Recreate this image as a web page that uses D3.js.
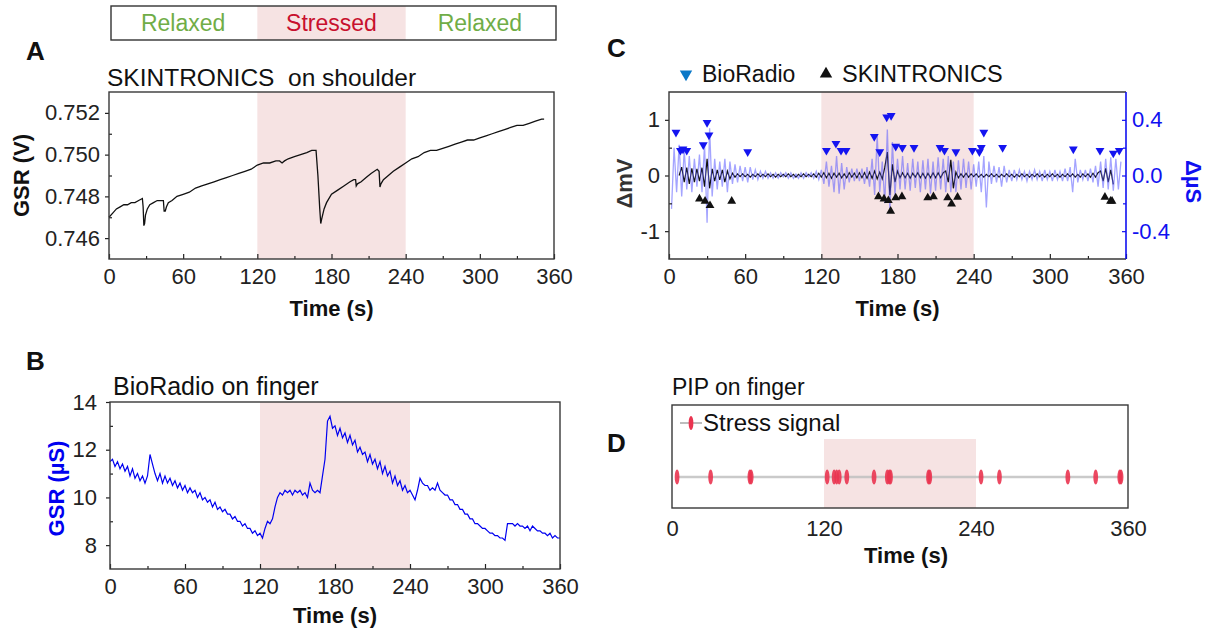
<!DOCTYPE html>
<html>
<head>
<meta charset="utf-8">
<script src="https://cdn.jsdelivr.net/npm/d3@7"></script>
<style>
  body { margin: 0; background: #fff; }
  svg text { font-family: "Liberation Sans", Arial, sans-serif; }
</style>
</head>
<body>
<svg id="fig" width="1211" height="636"></svg>
<script>
// ---------- data ----------
// experiment phases (top bar + shaded areas)
var phaseNames = ["Relaxed", "Stressed", "Relaxed"];
var phaseStart = [0, 120, 240];
var phaseEnd = [120, 240, 360];
var phaseColors = ["#70ad47", "#c8102e", "#70ad47"];

var timeTicks = [0, 60, 120, 180, 240, 300, 360];
var timeMinor = [30, 90, 150, 210, 270, 330];

// A: SKINTRONICS on shoulder, GSR (V)
var aTime = [0,3,6,9,12,15,18,21,24,27,27.6,28.2,28.8,29.5,31,33,36,39,42,44,
  44.6,45.5,46.5,48,51,55,60,65,70,75,80,85,90,95,100,105,110,115,120,125,
  130,135,138,140,142,145,150,155,160,164,167.5,169,170.5,171.3,172,174,176,180,185,190,
  195,198,199.5,200,201,204,208,212,217,218.5,219.2,220,222,226,230,235,240,245,250,255,
  260,265,270,275,280,285,290,295,300,305,310,315,320,325,330,335,340,345,350,352];
var aGsr = [0.7470,0.7472,0.7474,0.7475,0.7476,0.7476,0.7477,0.7477,0.7478,0.7479,
  0.7475,0.7466,0.7467,0.7471,0.7474,0.7476,0.7477,0.7478,0.7478,0.7478,
  0.7473,0.7473,0.7475,0.7477,0.7478,0.7480,0.7481,0.7482,0.7484,0.7485,
  0.7486,0.7487,0.7488,0.7489,0.7490,0.7491,0.7492,0.7493,0.7495,0.7496,
  0.7496,0.7497,0.7497,0.7496,0.7497,0.7498,0.7499,0.7500,0.7501,0.7502,
  0.7502,0.7490,0.7474,0.7467,0.7469,0.7474,0.7477,0.7481,0.7483,0.7485,
  0.7487,0.7488,0.7488,0.7485,0.7486,0.7487,0.7489,0.7491,0.7493,0.7492,
  0.74845,0.7486,0.7488,0.7490,0.7492,0.7494,0.7496,0.7498,0.7499,0.7501,
  0.7502,0.7502,0.7503,0.7504,0.7505,0.7506,0.7507,0.7507,0.7508,0.7509,
  0.7510,0.7511,0.7512,0.7513,0.7514,0.7514,0.7515,0.7516,0.7517,0.7517];
var aTicks = [0.746, 0.748, 0.750, 0.752];
var aMinor = [0.747, 0.749, 0.751];

// B: BioRadio on finger, GSR (uS), one value every 2 s from 0 s
var bStep = 2;
var bGsr = [11.5,11.6,11.3,11.5,11.2,11.4,11.1,11.3,10.9,11.2,
  10.8,11.0,10.7,10.9,10.6,10.9,11.8,11.4,11.0,10.7,
  11.0,10.6,10.9,10.6,10.8,10.5,10.7,10.4,10.6,10.3,
  10.5,10.2,10.4,10.2,10.3,10.0,10.2,9.9,10.0,9.8,
  9.9,9.6,9.8,9.5,9.6,9.4,9.5,9.3,9.3,9.1,
  9.2,9.0,9.0,8.8,8.9,8.7,8.7,8.5,8.6,8.4,
  8.5,8.3,8.7,9.0,8.9,9.1,9.6,10.0,10.2,10.1,
  10.3,10.2,10.3,10.1,10.3,10.2,10.3,10.1,10.2,10.0,
  10.6,10.3,10.2,10.3,10.2,10.9,11.6,13.2,13.4,12.9,
  13.0,12.6,12.9,12.5,12.7,12.3,12.6,12.2,12.4,11.9,
  12.1,11.8,11.9,11.5,11.8,11.4,11.6,11.2,11.5,11.0,
  11.3,10.9,11.1,10.6,10.9,10.5,10.7,10.3,10.5,10.2,
  10.3,10.1,9.9,10.3,10.8,10.6,10.5,10.5,10.3,10.4,
  10.3,10.6,10.3,10.2,10.1,10.1,9.9,9.9,9.7,9.7,
  9.5,9.5,9.3,9.3,9.1,9.1,8.9,8.9,8.8,8.7,
  8.7,8.6,8.5,8.5,8.4,8.4,8.3,8.3,8.2,8.9,
  8.9,8.9,8.8,8.9,8.8,8.8,8.7,8.8,8.6,8.8,
  8.7,8.6,8.6,8.5,8.5,8.4,8.5,8.3,8.4,8.3,
  8.3];
var bTicks = [8, 10, 12, 14];
var bMinor = [9, 11, 13];

// C: filtered signals, every 2 s
var cStep = 2;
var cBioStart = 2;   // BioRadio, delta uS (right axis)
var cBio = [-0.24,0.20,-0.12,0.22,-0.15,0.18,-0.10,0.14,-0.12,0.12,
  -0.08,0.15,-0.12,0.22,-0.34,0.34,-0.15,0.12,-0.10,0.10,
  -0.08,0.12,-0.12,0.10,-0.06,0.08,-0.05,0.07,-0.04,0.06,
  -0.05,0.06,-0.03,0.04,-0.03,0.03,-0.02,0.03,-0.02,0.02,
  -0.02,0.02,-0.02,0.02,-0.01,0.02,-0.02,0.02,-0.02,0.01,
  -0.02,0.02,-0.02,0.02,-0.01,0.02,-0.02,0.03,-0.03,0.04,
  -0.06,0.10,-0.08,0.07,-0.12,0.14,-0.13,0.09,-0.10,0.06,
  -0.05,0.05,-0.04,0.05,-0.04,0.05,-0.06,0.06,-0.08,0.12,
  -0.14,0.29,-0.12,0.10,-0.20,0.33,-0.26,0.24,-0.14,0.12,
  -0.10,0.14,-0.10,0.09,-0.11,0.12,-0.09,0.10,-0.12,0.11,
  -0.10,0.12,-0.13,0.10,-0.11,0.13,-0.10,0.12,-0.12,0.14,
  -0.12,0.10,-0.12,0.11,-0.10,0.12,-0.09,0.10,-0.10,0.08,
  -0.08,0.10,-0.12,0.14,-0.23,0.10,-0.06,0.07,-0.05,0.06,
  -0.08,0.07,-0.05,0.04,-0.04,0.04,-0.03,0.04,-0.03,0.03,
  -0.04,0.03,-0.03,0.04,-0.03,0.03,-0.04,0.04,-0.03,0.03,
  -0.04,0.04,-0.03,0.03,-0.04,0.05,-0.04,0.06,-0.12,0.12,
  -0.05,0.04,-0.03,0.04,-0.04,0.05,-0.05,0.07,-0.08,0.10,
  -0.09,0.12,-0.10,0.13,-0.11,0.12,-0.10,0.10];
var cSkinStart = 8;  // SKINTRONICS, delta mV (left axis)
var cSkin = [0.00,0.15,-0.12,0.14,-0.15,0.13,-0.12,0.12,-0.10,0.14,
  -0.20,0.30,-0.23,0.12,-0.10,0.10,-0.08,0.10,-0.12,0.08,
  -0.06,0.04,-0.03,0.03,-0.02,0.03,-0.02,0.02,-0.03,0.02,
  -0.02,0.03,-0.02,0.02,-0.02,0.03,-0.02,0.02,-0.03,0.02,
  -0.02,0.02,-0.02,0.03,-0.02,0.02,-0.03,0.02,-0.02,0.03,
  -0.02,0.02,-0.02,0.03,-0.03,0.04,-0.03,0.05,-0.04,0.04,
  -0.05,0.04,-0.03,0.04,-0.04,0.03,-0.04,0.05,-0.03,0.04,
  -0.04,0.05,-0.04,0.05,-0.05,0.06,-0.05,0.08,-0.06,0.06,
  -0.06,0.15,0.42,-0.35,0.20,-0.12,0.08,-0.04,0.05,-0.04,
  0.04,-0.05,0.04,-0.03,0.05,-0.04,0.04,-0.05,0.04,-0.04,
  0.05,-0.04,0.05,-0.04,0.05,0.08,-0.12,0.28,-0.23,0.06,
  -0.04,0.03,-0.03,0.04,-0.03,0.03,-0.02,0.03,-0.03,0.02,
  -0.03,0.02,-0.02,0.03,-0.02,0.02,-0.03,0.02,-0.02,0.03,
  -0.02,0.02,-0.03,0.02,-0.02,0.03,-0.02,0.02,-0.03,0.02,
  -0.02,0.03,-0.02,0.02,-0.03,0.02,-0.02,0.03,-0.02,0.02,
  -0.03,0.02,-0.02,0.03,-0.02,0.03,-0.03,0.02,-0.03,0.03,
  -0.02,0.03,-0.03,0.04,-0.03,0.05,0.08,-0.10,0.13,-0.12,
  0.10,-0.16];
// detected events
var cBioMarkT = [5.5,9,11,14,27,30,31.5,62,124,131.5,135.5,139.5,161.7,166,171.5,175,178.6,183.8,193,
  213.5,217,226,239,244.5,246,248,262.8,318.5,339.5,350,354.7];
var cBioMarkV = [0.31,0.18,0.19,0.18,0.22,0.38,0.29,0.17,0.18,0.23,0.18,0.18,0.28,0.17,0.42,0.43,0.21,0.20,0.20,
  0.20,0.18,0.17,0.18,0.17,0.20,0.31,0.20,0.19,0.18,0.16,0.18];
var cSkinMarkT = [24,28.4,32.3,49.4,165,169.4,172.8,174.6,178.6,183.5,203.8,208.3,219.5,222.6,227.3,343.4,347.8,349];
var cSkinMarkV = [-0.42,-0.46,-0.54,-0.46,-0.38,-0.42,-0.45,-0.64,-0.40,-0.38,-0.40,-0.38,-0.40,-0.51,-0.39,-0.39,-0.46,-0.46];
var cLeftTicks = [-1, 0, 1], cLeftMinor = [-0.5, 0.5];
var cRightTicks = [-0.4, 0, 0.4], cRightMinor = [-0.2, 0.2];

// D: PIP stress signals (s)
var stressTimes = [4,30.5,61.5,62.5,122.5,128,130,132,138,159.5,170,171.5,172.5,202.5,203.5,244,258.5,312.5,334.5,353.5,354.5];
var dTicks = [0, 120, 240, 360];

// ---------- drawing ----------
var FONT = '"Liberation Sans", Arial, sans-serif';
var frameColor = "#383838";
var pinkFill = "#f6e3e3";
var svg = d3.select("#fig");

function styleAxis(sel, color, size) {
  sel.select(".domain").remove();
  sel.attr("font-family", FONT);
  sel.selectAll("line").attr("stroke", color).attr("stroke-width", 1.2);
  sel.selectAll("text").attr("fill", color).attr("font-size", size);
}

function bottomAxis(g, x, h, ticks, minor) {
  g.append("g").attr("transform", `translate(0,${h})`)
    .call(d3.axisBottom(x).tickValues(ticks).tickSize(-5).tickPadding(9).tickFormat(d => String(d)))
    .call(styleAxis, "#222", 22);
  g.append("g").attr("transform", `translate(0,${h})`)
    .call(d3.axisBottom(x).tickValues(minor).tickSize(-3).tickFormat(""))
    .call(styleAxis, "#222", 22);
}

function leftAxis(g, y, ticks, minor, fmt, pad) {
  g.append("g")
    .call(d3.axisLeft(y).tickValues(ticks).tickSize(4).tickPadding(pad).tickFormat(fmt))
    .call(styleAxis, "#222", 22);
  g.append("g")
    .call(d3.axisLeft(y).tickValues(minor).tickSize(-3).tickFormat(""))
    .call(styleAxis, "#222", 22);
}

function shade(g, x, y0, y1) {
  g.append("rect")
    .attr("x", x(phaseStart[1])).attr("y", y0)
    .attr("width", x(phaseEnd[1]) - x(phaseStart[1])).attr("height", y1 - y0)
    .attr("fill", pinkFill);
}

function frame(g, w, h) {
  g.append("rect").attr("width", w).attr("height", h)
    .attr("fill", "none").attr("stroke", frameColor).attr("stroke-width", 1.4);
}

function label(txt, x, y, size, weight, color, rot) {
  var t = svg.append("text").attr("x", x).attr("y", y)
    .attr("font-size", size).attr("font-weight", weight || "normal")
    .attr("fill", color || "#111").style("white-space", "pre").text(txt);
  if (rot) {
    t.attr("text-anchor", "middle").attr("dominant-baseline", "middle")
      .attr("transform", `rotate(${rot},${x},${y})`);
  }
  return t;
}

// ----- top phase bar -----
var A = { left: 109, top: 92, w: 445, h: 167 };
var xA = d3.scaleLinear().domain([0, 360]).range([A.left, A.left + A.w]);
var bar = svg.append("g");
bar.append("rect").attr("x", xA(phaseStart[1])).attr("y", 6)
  .attr("width", xA(phaseEnd[1]) - xA(phaseStart[1])).attr("height", 34).attr("fill", pinkFill);
bar.append("rect").attr("x", xA(0) + 2).attr("y", 6).attr("width", A.w).attr("height", 34)
  .attr("fill", "none").attr("stroke", "#333").attr("stroke-width", 1.4);
bar.selectAll("text.phase").data(phaseNames).enter().append("text")
  .attr("x", (d, i) => (xA(phaseStart[i]) + xA(phaseEnd[i])) / 2)
  .attr("y", 31).attr("text-anchor", "middle").attr("font-size", 23)
  .attr("fill", (d, i) => phaseColors[i]).text(d => d);

// ----- panel A -----
var gA = svg.append("g").attr("transform", `translate(${A.left},${A.top})`);
var xa = d3.scaleLinear().domain([0, 360]).range([0, A.w]);
var ya = d3.scaleLinear().domain([0.745, 0.753]).range([A.h, 0]);
shade(gA, xa, 0, A.h);
gA.append("path").datum(aTime)
  .attr("fill", "none").attr("stroke", "#111").attr("stroke-width", 1.3)
  .attr("d", d3.line().x(d => xa(d)).y((d, i) => ya(aGsr[i])));
bottomAxis(gA, xa, A.h, timeTicks, timeMinor);
leftAxis(gA, ya, aTicks, aMinor, d3.format(".3f"), 5);
frame(gA, A.w, A.h);
label("A", 26, 60, 26, "bold");
label("SKINTRONICS  on shoulder", 107, 86, 24.5);
label("GSR (V)", 23, A.top + A.h / 2, 22, "bold", "#111", -90);
label("Time (s)", A.left + A.w / 2, 316, 22, "bold").attr("text-anchor", "middle");

// ----- panel B -----
var B = { left: 110, top: 402, w: 450, h: 167 };
var gB = svg.append("g").attr("transform", `translate(${B.left},${B.top})`);
var xb = d3.scaleLinear().domain([0, 360]).range([0, B.w]);
var yb = d3.scaleLinear().domain([7, 14]).range([B.h, 0]);
shade(gB, xb, 0, B.h);
gB.append("path").datum(bGsr)
  .attr("fill", "none").attr("stroke", "#0000f0").attr("stroke-width", 1.2)
  .attr("d", d3.line().x((d, i) => xb(i * bStep)).y(d => yb(d)));
bottomAxis(gB, xb, B.h, timeTicks, timeMinor);
leftAxis(gB, yb, bTicks, bMinor, d => String(d), 9);
frame(gB, B.w, B.h);
label("B", 26, 370, 26, "bold");
label("BioRadio on finger", 113, 395, 25);
label("GSR (\u00b5S)", 58, B.top + B.h / 2 + 3, 22, "bold", "#0000f0", -90);
label("Time (s)", B.left + B.w / 2, 623, 22, "bold").attr("text-anchor", "middle");

// ----- panel C -----
var C = { left: 669, top: 92, w: 457, h: 167 };
var gC = svg.append("g").attr("transform", `translate(${C.left},${C.top})`);
var xc = d3.scaleLinear().domain([0, 360]).range([0, C.w]);
var ycL = d3.scaleLinear().domain([-1.5, 1.5]).range([C.h, 0]);
var ycR = d3.scaleLinear().domain([-0.6, 0.6]).range([C.h, 0]);
shade(gC, xc, 0, C.h);
gC.append("path").datum(cSkin)
  .attr("fill", "none").attr("stroke", "#111").attr("stroke-width", 1.2)
  .attr("d", d3.line().x((d, i) => xc(cSkinStart + i * cStep)).y(d => ycL(d)));
gC.append("path").datum(cBio)
  .attr("fill", "none").attr("stroke", "#5a5aff").attr("stroke-opacity", 0.55).attr("stroke-width", 1.3)
  .attr("d", d3.line().x((d, i) => xc(cBioStart + i * cStep)).y(d => ycR(d)));
var triUp = d3.symbol().type(d3.symbolTriangle).size(34);
gC.selectAll("path.bioMark").data(cBioMarkT).enter().append("path")
  .attr("d", triUp).attr("fill", "#1414f0")
  .attr("transform", (d, i) => `translate(${xc(d)},${ycR(cBioMarkV[i])}) rotate(180)`);
gC.selectAll("path.skinMark").data(cSkinMarkT).enter().append("path")
  .attr("d", triUp).attr("fill", "#111")
  .attr("transform", (d, i) => `translate(${xc(d)},${ycL(cSkinMarkV[i])})`);
bottomAxis(gC, xc, C.h, timeTicks, timeMinor);
leftAxis(gC, ycL, cLeftTicks, cLeftMinor, d => String(d), 5);
var rAx = gC.append("g").attr("transform", `translate(${C.w},0)`);
rAx.append("g").call(d3.axisRight(ycR).tickValues(cRightTicks).tickSize(-4).tickPadding(6).tickFormat(d => d.toFixed(1)))
  .call(styleAxis, "#1010f0", 22);
rAx.append("g").call(d3.axisRight(ycR).tickValues(cRightMinor).tickSize(-3).tickFormat(""))
  .call(styleAxis, "#1010f0", 22);
gC.append("path").attr("d", `M${C.w},0 H0 V${C.h} H${C.w}`)
  .attr("fill", "none").attr("stroke", frameColor).attr("stroke-width", 1.4);
gC.append("line").attr("x1", C.w).attr("x2", C.w).attr("y1", 0).attr("y2", C.h)
  .attr("stroke", "#1010f0").attr("stroke-width", 1.6);
label("C", 607, 57, 26, "bold");
// legend
svg.append("path").attr("d", triUp).attr("fill", "#0a78c8")
  .attr("transform", "translate(686,74) rotate(180) scale(1.4)");
label("BioRadio", 702, 82, 23);
svg.append("path").attr("d", triUp).attr("fill", "#111")
  .attr("transform", "translate(826,74) scale(1.4)");
label("SKINTRONICS", 842, 82, 23.5);
label("\u0394mV", 626, C.top + C.h / 2 + 8, 22, "bold", "#333", -90);
label("\u0394\u00b5S", 1192, C.top + C.h / 2 + 6, 22, "bold", "#1010f0", 90);
label("Time (s)", C.left + C.w / 2, 316, 22, "bold").attr("text-anchor", "middle");

// ----- panel D -----
var D = { left: 672, top: 405, w: 456, h: 103 };
var gD = svg.append("g").attr("transform", `translate(${D.left},${D.top})`);
var xd = d3.scaleLinear().domain([0, 360]).range([0, D.w]);
var markY = 72;
shade(gD, xd, 34, D.h);
gD.append("path").datum(stressTimes)
  .attr("fill", "none").attr("stroke", "#bdbdbd").attr("stroke-opacity", 0.8).attr("stroke-width", 2.5)
  .attr("d", d3.line().x(d => xd(d)).y(markY));
gD.selectAll("ellipse.stress").data(stressTimes).enter().append("ellipse")
  .attr("cx", d => xd(d)).attr("cy", markY).attr("rx", 2.4).attr("ry", 7.5)
  .attr("fill", "#ea3450").attr("fill-opacity", 0.9);
gD.append("g").attr("transform", `translate(0,${D.h})`)
  .call(d3.axisBottom(xd).tickValues(dTicks).tickSize(0).tickPadding(12).tickFormat(d => String(d)))
  .call(styleAxis, "#222", 22);
frame(gD, D.w, D.h);
// legend
gD.append("line").attr("x1", 8).attr("x2", 30).attr("y1", 18).attr("y2", 18)
  .attr("stroke", "#bdbdbd").attr("stroke-width", 2);
gD.append("ellipse").attr("cx", 19).attr("cy", 18).attr("rx", 2.4).attr("ry", 7)
  .attr("fill", "#ea3450");
label("Stress signal", D.left + 31, D.top + 26, 24);
label("D", 607, 452, 26, "bold");
label("PIP on finger", 672, 395, 23);
label("Time (s)", 906, 563, 22, "bold").attr("text-anchor", "middle");
</script>
</body>
</html>
